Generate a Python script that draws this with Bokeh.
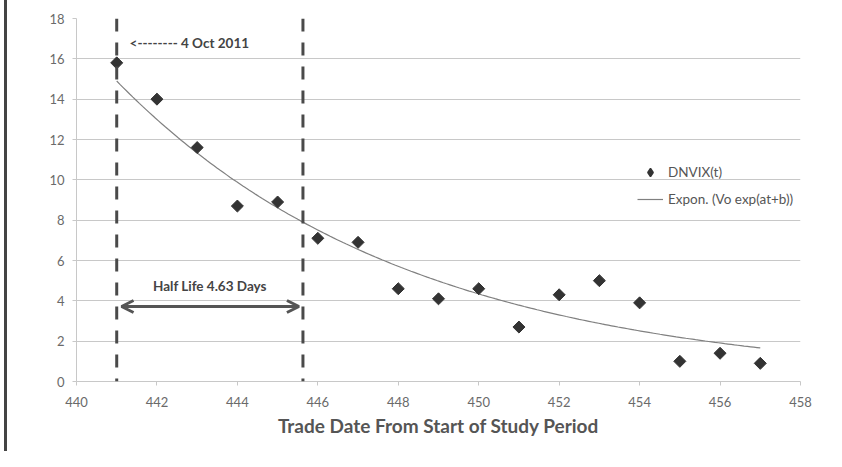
import numpy as np
from bokeh.plotting import figure
from bokeh.models import (FixedTicker, Arrow, OpenHead, Span, Legend, LegendItem,
                          Range1d, ColumnDataSource)
from bokeh.core.properties import value
from bokeh.embed import file_html
from bokeh.resources import INLINE

# ---- data ----
trade_day = [441, 442, 443, 444, 445, 446, 447, 448, 449, 450, 451, 452, 453, 454, 455, 456, 457]
dnvix = [15.8, 14.0, 11.6, 8.7, 8.9, 7.1, 6.9, 4.6, 4.1, 4.6, 2.7, 4.3, 5.0, 3.9, 1.0, 1.4, 0.9]

# exponential trend line: value at start and decay rate
trend_start_day = 441
trend_end_day = 457
trend_start_value = 14.9
trend_rate = 0.137

half_life = 4.63
start_day = 441
x_ticks = [440, 442, 444, 446, 448, 450, 452, 454, 456, 458]
y_ticks = [0, 2, 4, 6, 8, 10, 12, 14, 16, 18]

FONT = "Lato"
DARK = "#444444"

p = figure(width=819, height=451, output_backend="svg", toolbar_location=None,
           x_range=Range1d(440, 458), y_range=Range1d(0, 18),
           min_border_left=69, min_border_right=26, min_border_top=18, min_border_bottom=70)
p.styles = {"border-left": "3px solid #444444", "margin-left": "4px"}
p.outline_line_color = None
p.background_fill_color = "white"
p.border_fill_color = "white"

p.xgrid.grid_line_color = None
p.ygrid.grid_line_color = "#c8c8c8"
p.ygrid.grid_line_width = 1

p.xaxis.ticker = FixedTicker(ticks=x_ticks)
p.yaxis.ticker = FixedTicker(ticks=y_ticks)
for ax in (p.xaxis[0], p.yaxis[0]):
    ax.axis_line_color = "#c8c8c8"
    ax.major_tick_line_color = "#c8c8c8"
    ax.major_tick_out = 4
    ax.major_tick_in = 0
    ax.minor_tick_line_color = None
    ax.major_label_text_font = FONT
    ax.major_label_text_font_size = "13px"
    ax.major_label_text_color = "#6a6a6a"
p.yaxis.major_label_standoff = 8
p.xaxis.major_label_standoff = 11
p.xaxis.axis_label = "Trade Date From Start of Study Period"
p.xaxis.axis_label_text_font = FONT
p.xaxis.axis_label_text_font_style = "bold"
p.xaxis.axis_label_text_font_size = "19px"
p.xaxis.axis_label_text_color = "#555555"
p.xaxis.axis_label_standoff = 4

# vertical dashed markers
for xv in (start_day, start_day + half_life):
    p.add_layout(Span(location=xv, dimension="height", line_color="#4a4a4a",
                      line_width=3, line_dash="13 11"))

# trend line
t = np.linspace(trend_start_day, trend_end_day, 200)
trend = trend_start_value * np.exp(-trend_rate * (t - trend_start_day))
r_line = p.line(t, trend, line_color="#808080", line_width=1.2)

# data points (rotated squares = diamonds)
src = ColumnDataSource(dict(x=trade_day, y=dnvix))
r_pts = p.scatter("x", "y", source=src, marker="square", angle=np.pi / 4, size=8.5,
                  fill_color="#333333", line_color="#333333")
# legend proxy showing the same diamond symbol
r_key = p.scatter(x=[np.nan], y=[np.nan], marker="diamond", size=8,
                  fill_color="#333333", line_color="#333333", line_width=1.5)

# half-life arrow
p.add_layout(Arrow(x_start=start_day + 0.12, y_start=3.72,
                   x_end=start_day + half_life - 0.1, y_end=3.72,
                   line_color="#555555", line_width=3,
                   start=OpenHead(size=12, line_color="#555555", line_width=3),
                   end=OpenHead(size=12, line_color="#555555", line_width=3)))
p.text(x=[start_day + half_life / 2], y=[4.75], text=["Half Life 4.63 Days"],
       text_font=value(FONT), text_font_style="bold", text_font_size="13.5px",
       text_color=DARK, text_align="center", text_baseline="middle")
p.text(x=[start_day + 0.32], y=[16.8], text=["<-------- 4 Oct 2011"],
       text_font=value(FONT), text_font_style="bold", text_font_size="13.5px",
       text_color=DARK, text_align="left", text_baseline="middle")

legend = Legend(items=[LegendItem(label="DNVIX(t)", renderers=[r_key]),
                       LegendItem(label="Expon. (Vo exp(at+b))", renderers=[r_line])],
                location=(561, 172), padding=0, margin=0, spacing=7,
                glyph_width=26, glyph_height=20, label_standoff=5,
                label_text_font=FONT, label_text_font_size="13.5px",
                label_text_color="#555555",
                border_line_color=None, background_fill_alpha=0)
p.add_layout(legend)

open("out.html", "w").write(file_html(p, INLINE))
